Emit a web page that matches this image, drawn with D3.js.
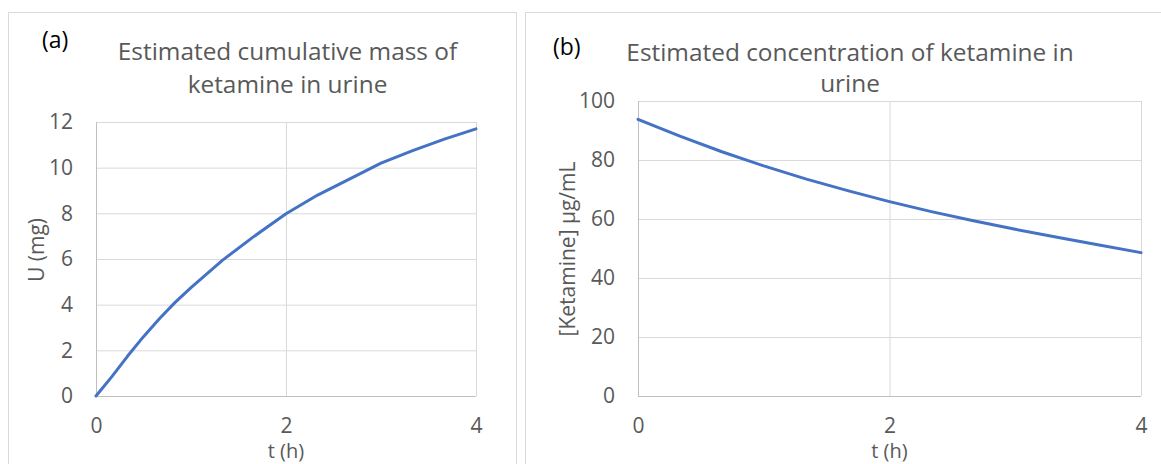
<!DOCTYPE html>
<html>
<head>
<meta charset="utf-8">
<script src="https://cdn.jsdelivr.net/npm/d3@7"></script>
<style>
  body { margin: 0; background: #fff; }
  svg text { font-family: "Open Sans", "Segoe UI", sans-serif; fill: #595959; }
</style>
</head>
<body>
<svg id="chart" width="1161" height="464"></svg>
<script>
// (a) cumulative mass of ketamine in urine
const tMass = [0, 0.167, 0.333, 0.5, 0.667, 0.833, 1, 1.333, 1.667, 2, 2.333, 2.667, 3, 3.333, 3.667, 4];
const massU = [0, 0.85, 1.75, 2.6, 3.38, 4.1, 4.75, 5.95, 7.0, 7.98, 8.8, 9.5, 10.2, 10.75, 11.25, 11.7];

// (b) concentration of ketamine in urine
const tConc = [0, 0.333, 0.667, 1, 1.333, 1.667, 2, 2.333, 2.667, 3, 3.333, 3.667, 4];
const concK = [93.8, 88.1, 82.8, 78.0, 73.6, 69.6, 65.9, 62.5, 59.4, 56.5, 53.8, 51.2, 48.6];

const xTicks = [0, 2, 4];
const yTicksA = [0, 2, 4, 6, 8, 10, 12];
const yTicksB = [0, 20, 40, 60, 80, 100];

const svg = d3.select("#chart");

// panel frames
svg.append("rect").attr("x", 8.5).attr("y", 12.5).attr("width", 508).attr("height", 470)
  .attr("fill", "none").attr("stroke", "#d9d9d9");
svg.append("rect").attr("x", 525.5).attr("y", 12.5).attr("width", 660).attr("height", 470)
  .attr("fill", "none").attr("stroke", "#d9d9d9");

function panel(opt) {
  const x = d3.scaleLinear().domain([0, 4]).range([opt.left, opt.right]);
  const y = d3.scaleLinear().domain(opt.yDomain).range([opt.bottom, opt.top]);
  const w = opt.right - opt.left, h = opt.bottom - opt.top;

  // horizontal gridlines + y labels
  const gy = svg.append("g").attr("transform", `translate(${opt.left},0)`)
    .call(d3.axisLeft(y).tickValues(opt.yTicks).tickSize(-w).tickPadding(23));
  gy.select(".domain").remove();
  gy.selectAll(".tick line").attr("stroke", "#d9d9d9");
  gy.selectAll(".tick text").attr("font-size", 21).attr("fill", "#595959");

  // vertical gridlines + x labels
  const gx = svg.append("g").attr("transform", `translate(0,${opt.bottom})`)
    .call(d3.axisBottom(x).tickValues(xTicks).tickSize(-h).tickFormat(d3.format("d")));
  gx.select(".domain").remove();
  gx.selectAll(".tick line").attr("stroke", "#d9d9d9");
  gx.selectAll(".tick text").attr("font-size", 21).attr("fill", "#595959")
    .attr("y", 30).attr("dy", "0.35em");

  // axis lines
  svg.append("line").attr("x1", opt.left).attr("x2", opt.right)
    .attr("y1", opt.bottom + 0.5).attr("y2", opt.bottom + 0.5).attr("stroke", "#bfbfbf");
  svg.append("line").attr("x1", opt.left + 0.5).attr("x2", opt.left + 0.5)
    .attr("y1", opt.top).attr("y2", opt.bottom).attr("stroke", "#bfbfbf");

  const line = d3.line().x(d => x(d[0])).y(d => y(d[1]));
  svg.append("path").datum(d3.zip(opt.xs, opt.ys))
    .attr("d", line).attr("fill", "none").attr("stroke", "#4472c4")
    .attr("stroke-width", 3).attr("stroke-linejoin", "round").attr("stroke-linecap", "round");

  // titles
  opt.title.forEach((s, i) => {
    svg.append("text").attr("x", opt.titleX).attr("y", opt.titleY[i])
      .attr("text-anchor", "middle").attr("font-size", 24.4).text(s);
  });
  svg.append("text").attr("x", opt.tagX).attr("y", opt.tagY).attr("font-size", 23)
    .style("fill", "#000").text(opt.tag);
  svg.append("text").attr("x", (opt.left + opt.right) / 2).attr("y", 451)
    .attr("text-anchor", "middle").attr("dy", "0.35em").attr("font-size", 20).text("t (h)");
  svg.append("text")
    .attr("transform", `translate(${opt.yLabelX},${opt.yLabelY}) rotate(-90)`)
    .attr("text-anchor", "middle").attr("dy", "0.35em").attr("font-size", 21).text(opt.yLabel);
}

panel({
  left: 96, right: 476, top: 122, bottom: 396,
  yDomain: [0, 12], yTicks: yTicksA, xs: tMass, ys: massU,
  title: ["Estimated cumulative mass of", "ketamine in urine"],
  titleX: 287.5, titleY: [60, 93], tag: "(a)", tagX: 42, tagY: 48,
  yLabel: "U (mg)", yLabelX: 37, yLabelY: 250
});

panel({
  left: 638, right: 1141, top: 101, bottom: 396,
  yDomain: [0, 100], yTicks: yTicksB, xs: tConc, ys: concK,
  title: ["Estimated concentration of ketamine in", "urine"],
  titleX: 850, titleY: [61, 92], tag: "(b)", tagX: 553, tagY: 55,
  yLabel: "[Ketamine] µg/mL", yLabelX: 568, yLabelY: 249
});
</script>
</body>
</html>
